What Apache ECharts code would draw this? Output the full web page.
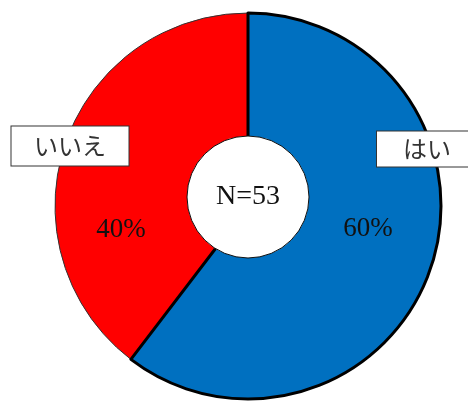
<!DOCTYPE html>
<html>
<head>
<meta charset="utf-8">
<script src="https://cdn.jsdelivr.net/npm/echarts@6/dist/echarts.min.js"></script>
<style>html,body{margin:0;padding:0;background:#fff}#c{width:468px;height:401px}</style>
</head>
<body>
<div id="c"></div>
<script>
const categories = ['はい', 'いいえ'];
const values = [32, 21];
const colors = ['#0070C0', '#FF0000'];
const totalLabel = 'N=53';

const chart = echarts.init(document.getElementById('c'), null, {renderer: 'canvas'});
const serif = '"Liberation Serif", "DejaVu Serif", serif';
const cjk = '"Noto Sans CJK JP", sans-serif';

const pctPos = [[368, 229], [121, 230]];
const namePos = [[427, 149], [70, 146]];
const nameBox = [[100, 35], [117, 39]];

chart.setOption({
  animation: false,
  series: [
    {
      type: 'pie',
      center: [248, 206],
      radius: [0, 193],
      startAngle: 90,
      clockwise: true,
      percentPrecision: 0,
      silent: true,
      data: categories.map((n, i) => ({
        name: n, value: values[i],
        itemStyle: {color: colors[i], borderColor: '#333', borderWidth: i === 1 ? 1 : 0}
      })),
      label: {
        show: true, position: 'inside', formatter: '{d}%',
        fontFamily: serif, fontSize: 27, color: '#111'
      },
      labelLine: {show: false},
      labelLayout: p => ({x: pctPos[p.dataIndex][0], y: pctPos[p.dataIndex][1], align: 'center', verticalAlign: 'middle'})
    },
    {
      type: 'pie',
      center: [248, 206],
      radius: [0, 193],
      startAngle: 90,
      clockwise: true,
      silent: true,
      data: categories.map((n, i) => ({
        name: n, value: values[i],
        itemStyle: {color: 'rgba(0,0,0,0)', borderColor: i === 0 ? '#000' : 'rgba(0,0,0,0)', borderWidth: i === 0 ? 3 : 0},
        label: {width: nameBox[i][0], height: nameBox[i][1], lineHeight: nameBox[i][1]}
      })),
      label: {
        show: true, position: 'inside', formatter: '{b}',
        fontFamily: cjk, fontSize: 24, color: '#333',
        backgroundColor: '#fff', borderColor: '#333', borderWidth: 1,
        align: 'center', verticalAlign: 'middle', padding: 0
      },
      labelLine: {show: false},
      labelLayout: p => ({x: namePos[p.dataIndex][0], y: namePos[p.dataIndex][1], align: 'center', verticalAlign: 'middle'})
    },
    {
      type: 'pie',
      center: [248, 197],
      radius: [0, 61],
      silent: true,
      data: [{name: totalLabel, value: 1, itemStyle: {color: '#fff', borderColor: '#111', borderWidth: 1}}],
      label: {show: true, position: 'center', formatter: '{b}', fontFamily: serif, fontSize: 28, color: '#111'},
      labelLine: {show: false}
    }
  ]
});
</script>
</body>
</html>
